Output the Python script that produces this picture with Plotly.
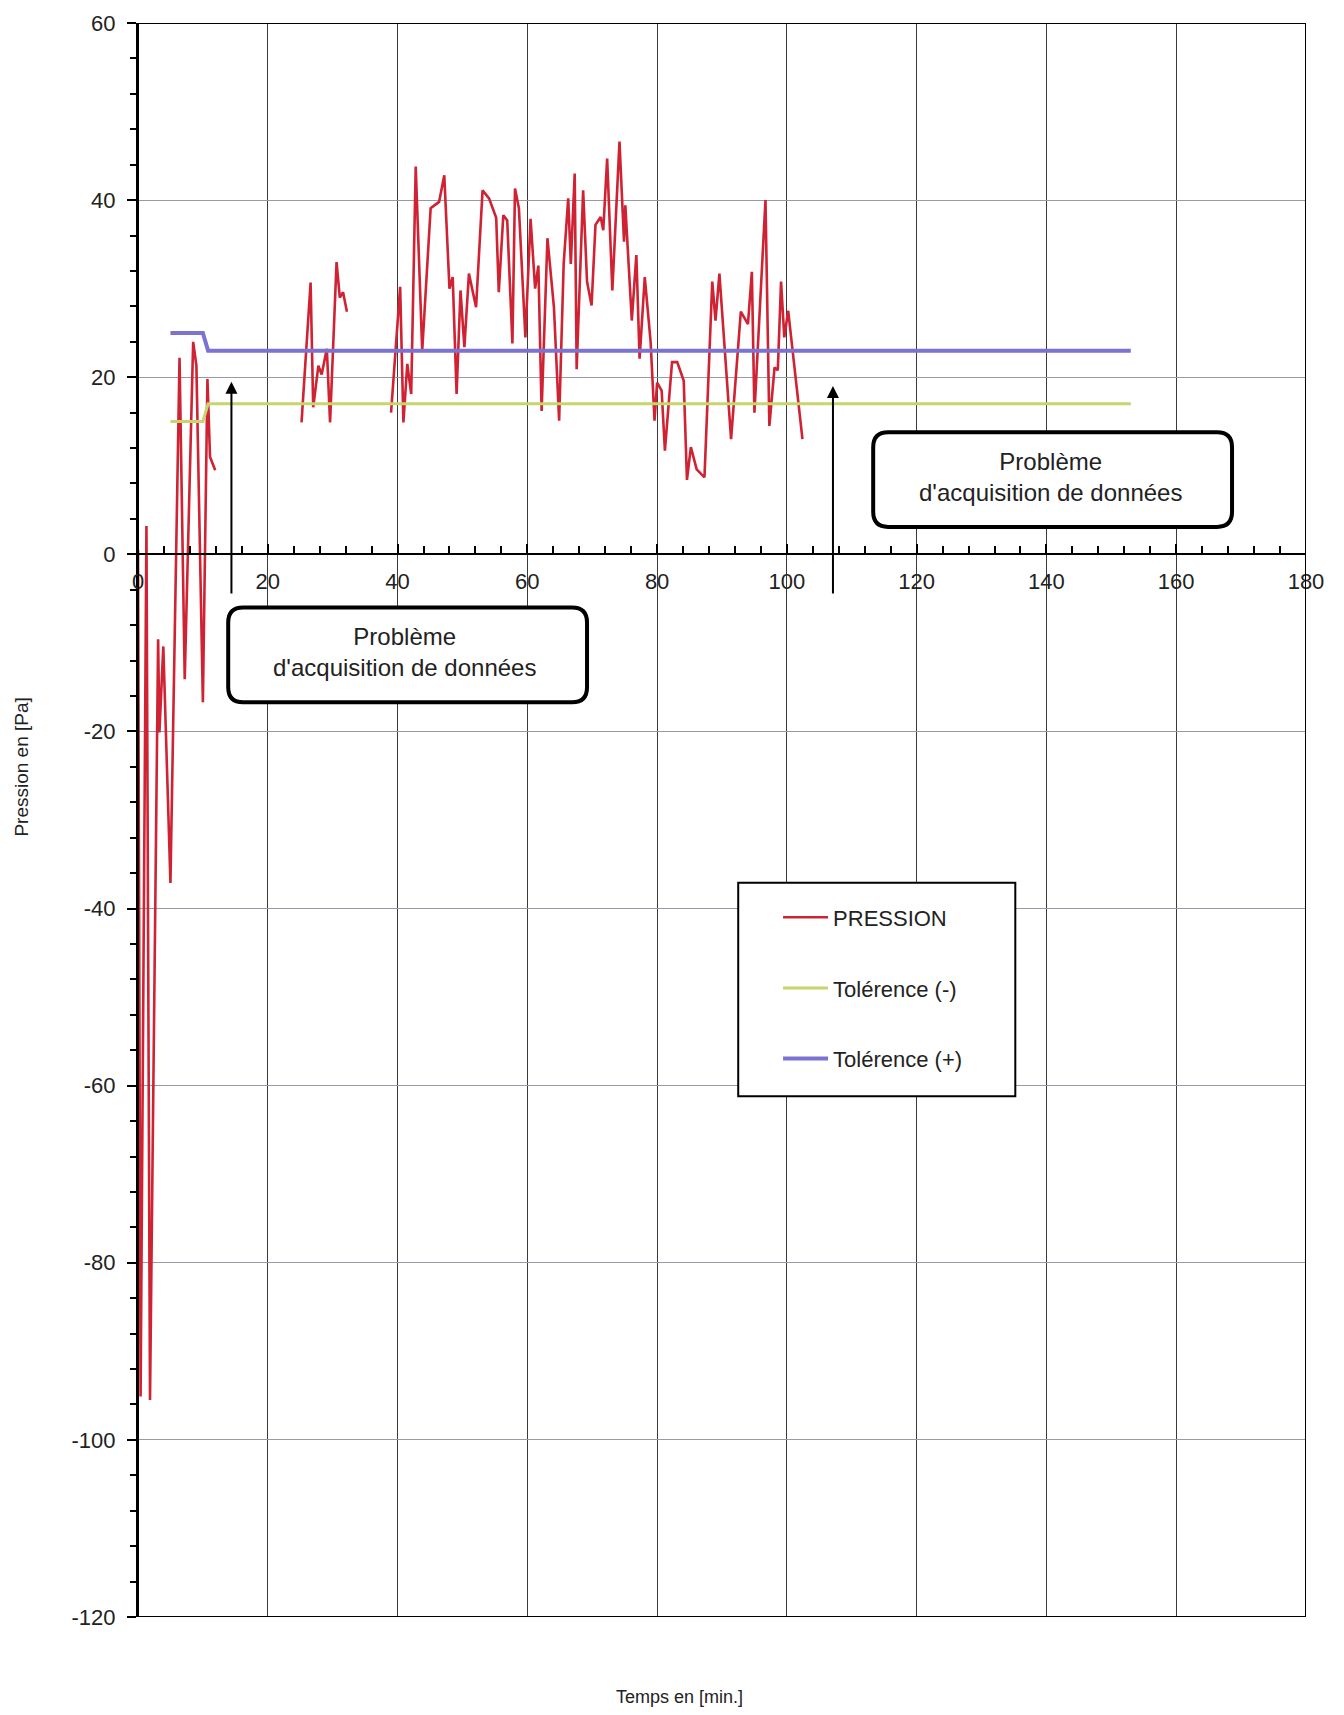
import plotly.graph_objects as go

# ---- Pressure record (min, Pa); acquisition dropped out between segments ----
t_seg1 = [0.0, 0.4, 1.3, 1.85, 3.1, 3.3, 3.9, 5.0, 6.4, 7.2, 8.5, 9.0, 10.0, 10.7, 11.1, 11.9]
p_seg1 = [0.5, -95.1, 3.2, -95.5, -9.6, -20.1, -10.4, -37.1, 22.2, -14.1, 24.0, 21.3, -16.7, 19.8, 11.0, 9.5]

t_seg2 = [25.2, 26.6, 27.0, 27.8, 28.3, 29.1, 29.6, 30.6, 31.1, 31.6, 32.2]
p_seg2 = [14.9, 30.7, 16.6, 21.3, 20.3, 23.2, 14.9, 33.0, 29.0, 29.6, 27.4]

t_seg3 = [39.0, 40.4, 40.9, 41.5, 42.1, 42.8, 43.8, 45.1, 46.4, 47.2, 48.0, 48.5, 49.1, 49.7,
          50.3, 51.0, 52.1, 53.1, 54.1, 55.2, 55.6, 56.3, 56.9, 57.7, 58.1, 58.7, 59.7, 60.5,
          61.2, 61.7, 62.2, 63.1, 64.1, 64.9, 65.6, 66.3, 66.7, 67.3, 67.6, 68.6, 69.2, 69.9,
          70.5, 71.3, 71.7, 72.3, 73.1, 74.2, 74.9, 75.1, 76.1, 76.8, 77.3, 78.1, 79.0, 79.6,
          80.0, 80.7, 81.2, 82.3, 83.1, 84.1, 84.6, 85.2, 86.1, 87.3, 88.5, 89.0, 89.6, 91.4,
          92.9, 94.0, 94.6, 95.0, 96.7, 97.3, 98.1, 98.6, 99.1, 99.6, 100.2, 102.4]
p_seg3 = [16.0, 30.2, 14.9, 21.5, 18.1, 43.8, 23.0, 39.1, 39.8, 42.8, 30.0, 31.3, 18.1, 29.8,
          23.4, 31.7, 27.9, 41.1, 40.2, 38.0, 29.6, 38.3, 37.7, 23.8, 41.3, 39.1, 24.5, 37.9,
          30.0, 32.6, 16.2, 35.7, 27.9, 15.1, 32.8, 40.2, 32.8, 43.0, 20.9, 41.1, 30.8, 28.1,
          37.2, 38.1, 36.6, 44.7, 29.8, 46.6, 35.3, 39.4, 26.4, 33.8, 22.1, 31.3, 24.0, 15.1,
          19.4, 18.5, 11.7, 21.7, 21.7, 19.6, 8.4, 12.1, 9.6, 8.7, 30.8, 26.4, 31.7, 13.0,
          27.4, 26.0, 31.9, 16.0, 40.0, 14.5, 21.1, 20.8, 30.8, 24.5, 27.5, 13.0]

# ---- Tolerance band ----
tol_time = [5.0, 10.0, 10.8, 153.0]
tol_minus = [15, 15, 17, 17]
tol_plus = [25, 25, 23, 23]

# ---- Axis ticks ----
x_tick_vals = [0, 20, 40, 60, 80, 100, 120, 140, 160, 180]
x_tick_text = ["0", "20", "40", "60", "80", "100", "120", "140", "160", "180"]
y_tick_vals = [-120, -100, -80, -60, -40, -20, 0, 20, 40, 60]
y_tick_text = ["-120", "-100", "-80", "-60", "-40", "-20", "0", "20", "40", "60"]

X_RANGE = [0, 180]
Y_RANGE = [-120, 60]

# join the three recorded segments with gaps
time_min = t_seg1 + [None] + t_seg2 + [None] + t_seg3
pression = p_seg1 + [None] + p_seg2 + [None] + p_seg3

FONT = "Liberation Sans, Arial, sans-serif"
RED = "#cf2233"
GREEN = "#c6d56c"
BLUE = "#7c72d2"

fig = go.Figure()
fig.add_trace(go.Scatter(x=time_min, y=pression, mode="lines", name="PRESSION",
                         legendgroup="p", connectgaps=False,
                         line=dict(color=RED, width=2.6)))
fig.add_trace(go.Scatter(x=tol_time, y=tol_minus, mode="lines", name="Tolérence (-)",
                         legendgroup="m", line=dict(color=GREEN, width=3)))
fig.add_trace(go.Scatter(x=tol_time, y=tol_plus, mode="lines", name="Tolérence (+)",
                         legendgroup="q", line=dict(color=BLUE, width=4)))


def rounded_box(x0, x1, y0, y1, rx, ry):
    return (f"M {x0 + rx},{y0} L {x1 - rx},{y0} Q {x1},{y0} {x1},{y0 + ry} "
            f"L {x1},{y1 - ry} Q {x1},{y1} {x1 - rx},{y1} L {x0 + rx},{y1} "
            f"Q {x0},{y1} {x0},{y1 - ry} L {x0},{y0 + ry} Q {x0},{y0} {x0 + rx},{y0} Z")


shapes = [
    # frame around the plotting area
    dict(type="rect", xref="x", yref="y", x0=X_RANGE[0], x1=X_RANGE[1],
         y0=Y_RANGE[0], y1=Y_RANGE[1], line=dict(color="black", width=2), layer="above"),
    # call-out boxes
    dict(type="path", xref="x", yref="y", path=rounded_box(113.3, 168.6, 3.1, 13.8, 2.3, 1.7),
         fillcolor="white", line=dict(color="black", width=4), layer="above"),
    dict(type="path", xref="x", yref="y", path=rounded_box(13.9, 69.2, -16.7, -6.0, 2.3, 1.7),
         fillcolor="white", line=dict(color="black", width=4), layer="above"),
    # legend frame
    dict(type="rect", xref="x", yref="y", x0=92.5, x1=135.2, y0=-61.2, y1=-37.1,
         fillcolor="white", line=dict(color="black", width=2), layer="above"),
]

label_font = dict(family=FONT, size=24, color="#222")
annotations = [
    dict(x=140.7, y=8.7, xref="x", yref="y", text="Problème<br>d'acquisition de données",
         showarrow=False, font=label_font, align="center"),
    dict(x=41.1, y=-11.0, xref="x", yref="y", text="Problème<br>d'acquisition de données",
         showarrow=False, font=label_font, align="center"),
    # arrows pointing at the missing data
    dict(x=14.4, y=19.5, ax=14.4, ay=-4.6, xref="x", yref="y", axref="x", ayref="y",
         text="", showarrow=True, arrowhead=2, arrowsize=1.2, arrowwidth=2, arrowcolor="black"),
    dict(x=107.1, y=19.0, ax=107.1, ay=-4.6, xref="x", yref="y", axref="x", ayref="y",
         text="", showarrow=True, arrowhead=2, arrowsize=1.2, arrowwidth=2, arrowcolor="black"),
    # axis titles
    dict(x=0.464, y=-0.050, xref="paper", yref="paper", text="Temps en [min.]",
         xanchor="center", yanchor="middle",
         showarrow=False, font=dict(family=FONT, size=18, color="#222")),
    dict(x=-0.100, y=0.533, xref="paper", yref="paper", text="Pression en [Pa]",
         xanchor="center", yanchor="middle",
         textangle=-90, showarrow=False, font=dict(family=FONT, size=19, color="#222")),
]

zero_frac = (0 - Y_RANGE[0]) / (Y_RANGE[1] - Y_RANGE[0])

fig.update_layout(
    width=1344, height=1715,
    margin=dict(l=138, r=38, t=23, b=98),
    paper_bgcolor="white", plot_bgcolor="white",
    font=dict(family=FONT, color="#222"),
    shapes=shapes, annotations=annotations,
    showlegend=True,
    legend=dict(x=0.548, y=0.452, xanchor="left", yanchor="top",
                bgcolor="rgba(0,0,0,0)", borderwidth=0, itemwidth=45,
                font=dict(family=FONT, size=22, color="#222"),
                tracegroupgap=39, traceorder="grouped"),
    xaxis=dict(range=X_RANGE, anchor="free", position=zero_frac, side="bottom",
               showline=True, linecolor="black", linewidth=2, zeroline=False,
               tickmode="array", tickvals=x_tick_vals, ticktext=x_tick_text,
               ticks="inside", ticklen=9, tickwidth=2, tickcolor="black",
               ticklabelstandoff=7,
               tickfont=dict(family=FONT, size=22, color="#222"),
               showgrid=True, gridcolor="#3a3a3a", gridwidth=1,
               minor=dict(tickmode="linear", tick0=0, dtick=4, ticks="inside",
                          ticklen=7, tickwidth=1.5, tickcolor="black", showgrid=False)),
    yaxis=dict(range=Y_RANGE, domain=[0, 1],
               showline=True, linecolor="black", linewidth=2, zeroline=False,
               tickmode="array", tickvals=y_tick_vals, ticktext=y_tick_text,
               ticks="outside", ticklen=9, tickwidth=2, tickcolor="black",
               ticklabelstandoff=7,
               tickfont=dict(family=FONT, size=22, color="#222"),
               showgrid=True, gridcolor="#9a9aa6", gridwidth=1,
               minor=dict(tickmode="linear", tick0=0, dtick=4, ticks="outside",
                          ticklen=6, tickwidth=1.5, tickcolor="black", showgrid=False)),
)

fig.write_html("out.html")
